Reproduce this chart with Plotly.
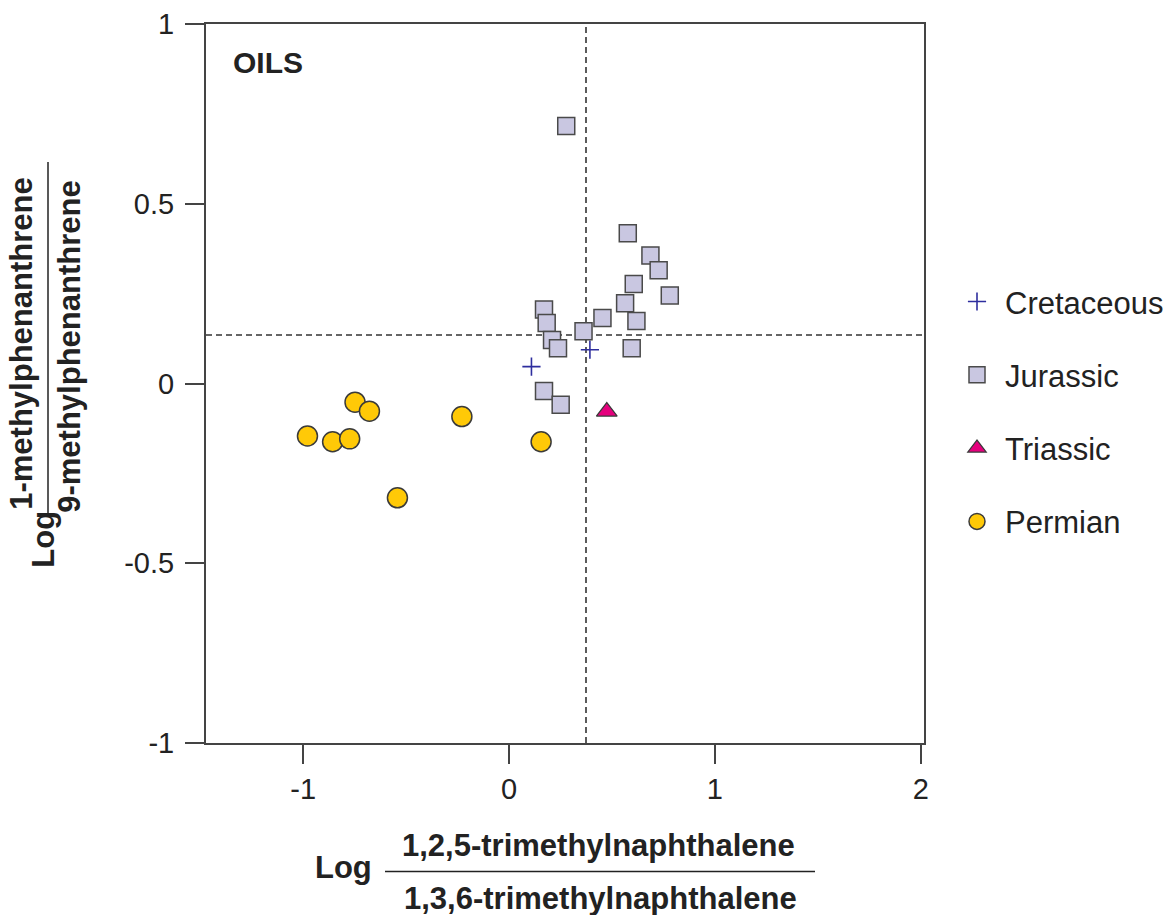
import plotly.graph_objects as go

# Log(1,2,5-TMN / 1,3,6-TMN) vs Log(1-MP / 9-MP) for oils grouped by source age
cretaceous_x = [0.393, 0.109]
cretaceous_y = [0.094, 0.047]

jurassic_x = [0.278, 0.577, 0.687, 0.727, 0.606, 0.781, 0.564, 0.619, 0.454,
              0.362, 0.170, 0.183, 0.209, 0.238, 0.596, 0.170, 0.251]
jurassic_y = [0.716, 0.418, 0.356, 0.315, 0.277, 0.245, 0.223, 0.174, 0.182,
              0.145, 0.206, 0.168, 0.121, 0.098, 0.098, -0.021, -0.059]

triassic_x = [0.475]
triassic_y = [-0.078]

permian_x = [-0.979, -0.857, -0.774, -0.748, -0.678, -0.229, 0.156, -0.542]
permian_y = [-0.146, -0.162, -0.154, -0.052, -0.077, -0.092, -0.162, -0.318]

# reference lines
x_cut = 0.374
y_cut = 0.135

x_ticks = [-1, 0, 1, 2]
y_ticks = [-1, -0.5, 0, 0.5, 1]
y_tick_text = ["-1", "-0.5", "0", "0.5", "1"]

W, H = 1167, 915
L, R, T, B = 206, 924, 24, 743.5

REG = "Liberation Sans, Arial, Helvetica, sans-serif"
INK = "#222222"


def px_x(p):
    return (p - L) / (R - L)


def px_y(p):
    return (B - p) / (B - T)


fig = go.Figure()

fig.add_trace(go.Scatter(
    x=cretaceous_x, y=cretaceous_y, mode="markers", name="Cretaceous",
    legendgroup="c",
    marker=dict(symbol="cross-thin", size=13, color="#2e2e9e",
                line=dict(color="#2e2e9e", width=1.6)),
))
fig.add_trace(go.Scatter(
    x=jurassic_x, y=jurassic_y, mode="markers", name="Jurassic",
    legendgroup="j",
    marker=dict(symbol="square", size=17, color="#c9c7e1",
                line=dict(color="#4a4a4a", width=1.5)),
))
fig.add_trace(go.Scatter(
    x=triassic_x, y=triassic_y, mode="markers", name="Triassic",
    legendgroup="t",
    marker=dict(symbol="triangle-up", size=18, color="#e5007d",
                line=dict(color="#3a3a3a", width=1.2)),
))
fig.add_trace(go.Scatter(
    x=permian_x, y=permian_y, mode="markers", name="Permian",
    legendgroup="p",
    marker=dict(symbol="circle", size=20, color="#ffc907",
                line=dict(color="#3a3a3a", width=1.5)),
))

# dashed cut-off lines
fig.add_shape(type="line", xref="x", yref="paper", x0=x_cut, x1=x_cut, y0=0, y1=1,
              line=dict(color="#333333", width=1.6, dash="6px,4px"), layer="below")
fig.add_shape(type="line", xref="paper", yref="y", x0=0, x1=1, y0=y_cut, y1=y_cut,
              line=dict(color="#333333", width=1.6, dash="6px,4px"), layer="below")

annotations = [
    dict(text="<b>OILS</b>", x=px_x(231), y=px_y(63), xanchor="left", yanchor="middle",
         font=dict(size=30, family=REG, color=INK)),
    # x-axis title as a ratio
    dict(text="<b>Log</b>", x=px_x(343), y=px_y(868), xanchor="center", yanchor="middle",
         font=dict(size=31, family=REG, color=INK)),
    dict(text="<b>1,2,5-trimethylnaphthalene</b>", x=px_x(598), y=px_y(846),
         xanchor="center", yanchor="middle", font=dict(size=31, family=REG, color=INK)),
    dict(text="<b>1,3,6-trimethylnaphthalene</b>", x=px_x(600), y=px_y(899),
         xanchor="center", yanchor="middle", font=dict(size=31, family=REG, color=INK)),
    # y-axis title as a ratio
    dict(text="<b>Log</b>", x=px_x(44), y=px_y(540), xanchor="center", yanchor="middle",
         textangle=-90, font=dict(size=31, family=REG, color=INK)),
    dict(text="<b>1-methylphenanthrene</b>", x=px_x(22), y=px_y(344),
         xanchor="center", yanchor="middle", textangle=-90,
         font=dict(size=31, family=REG, color=INK)),
    dict(text="<b>9-methylphenanthrene</b>", x=px_x(70), y=px_y(347),
         xanchor="center", yanchor="middle", textangle=-90,
         font=dict(size=31, family=REG, color=INK)),
]
for a in annotations:
    a.update(xref="paper", yref="paper", showarrow=False)

shapes_extra = [
    dict(type="line", xref="paper", yref="paper", x0=px_x(385), x1=px_x(815),
         y0=px_y(872), y1=px_y(872), line=dict(color=INK, width=1.5)),
    dict(type="line", xref="paper", yref="paper", x0=px_x(48), x1=px_x(48),
         y0=px_y(162), y1=px_y(514), line=dict(color=INK, width=1.5)),
]
for s in shapes_extra:
    fig.add_shape(**s)

axis_common = dict(
    showgrid=False, zeroline=False, showline=True, mirror=True, automargin=False,
    linecolor="#444444", linewidth=2, ticks="outside", ticklen=19,
    tickwidth=2, tickcolor="#444444",
    tickfont=dict(size=29, family=REG, color=INK),
)

fig.update_layout(
    width=W, height=H,
    margin=dict(l=L, r=W - R, t=T, b=H - B, autoexpand=False),
    plot_bgcolor="white", paper_bgcolor="white",
    xaxis=dict(range=[-1.472, 2.016], tickvals=x_ticks,
               ticktext=[str(v) for v in x_ticks], ticklabelstandoff=0, **axis_common),
    yaxis=dict(range=[-1, 1], tickvals=y_ticks, ticktext=y_tick_text,
               ticklabelstandoff=5, **axis_common),
    annotations=annotations,
    showlegend=True,
    legend=dict(x=px_x(949), y=px_y(275), xanchor="left", yanchor="top",
                font=dict(size=31, family=REG, color=INK),
                tracegroupgap=30, bgcolor="rgba(0,0,0,0)", itemwidth=46),
)

fig.write_html("out.html")
